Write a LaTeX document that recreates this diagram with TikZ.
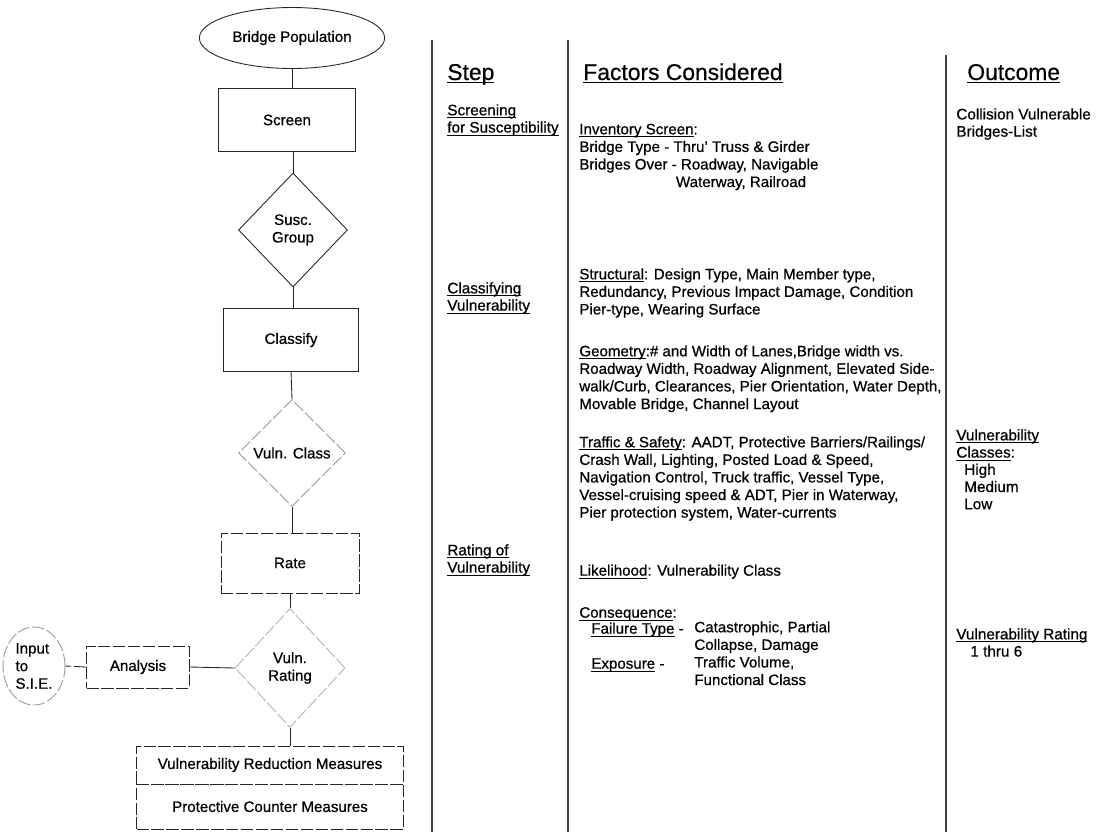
\documentclass[tikz,border=0pt]{standalone}
\usepackage{fontspec}
\setmainfont{Liberation Sans}[FakeBold=0.6]
\usetikzlibrary{shapes.geometric}

\newcommand{\und}[1]{$\underline{\smash{\hbox{#1}}}$}
\newcommand{\flowfont}{\fontsize{8.6}{10}\selectfont}
\newcommand{\colfont}{\fontsize{8.6}{10}\selectfont}
\newcommand{\sidefont}{\fontsize{8.7}{9.8}\selectfont}
\newcommand{\headfont}{\fontsize{13}{15}\selectfont}

\tikzset{
    line/.style={draw=black!85, line width=0.5pt},
    box/.style={line, rectangle, font=\flowfont, inner sep=2pt},
    broken/.style={dash pattern=on 7pt off 1.5pt},
    choice/.style={line, diamond, font=\flowfont, align=center, inner sep=0pt},
    faint/.style={draw=black!40},
    sep/.style={draw=black!75, line width=0.6pt},
    colhead/.style={anchor=base west, inner sep=0pt, font=\headfont},
    coltext/.style={anchor=north west, inner sep=0pt, align=left, font=\colfont,
        execute at begin node=\rule{0pt}{7pt}},
}

\begin{document}
\begin{tikzpicture}[x=0.02cm, y=-0.02cm]
    \useasboundingbox (0,0) rectangle (1097,832);

    % flow chart
    \node[line, ellipse, minimum width=3.6cm, minimum height=1.22cm, font=\flowfont] (pop) at (292,38) {Bridge Population};
    \node[box, minimum width=2.74cm, minimum height=1.26cm] (screen) at (287,120) {Screen};
    \node[choice, minimum width=2.18cm, minimum height=2.28cm] (susc) at (293,230) {Susc.\\Group};
    \node[box, minimum width=2.7cm, minimum height=1.26cm] (classify) at (291,340) {Classify};
    \node[choice, faint, broken, minimum width=2.14cm, minimum height=2.14cm] (vulnclass) at (292,453) {Vuln. Class};
    \node[box, broken, minimum width=2.76cm, minimum height=1.2cm] (rate) at (290,563) {Rate};
    \node[choice, faint, broken, draw=black!30, minimum width=2.2cm, minimum height=2.38cm] (vulnrating) at (290,668) {Vuln.\\Rating};
    \node[box, broken, minimum width=2.06cm, minimum height=0.84cm] (analysis) at (138,667) {Analysis};
    \node[line, faint, broken, ellipse, inner sep=0pt, align=left, font=\flowfont,
        minimum width=1.24cm, minimum height=1.56cm] (sie) at (34,666) {Input\\to\\S.I.E.};
    \node[box, broken, minimum width=5.34cm, minimum height=0.76cm] (reduce) at (270,765) {Vulnerability Reduction Measures};
    \node[box, broken, minimum width=5.34cm, minimum height=0.9cm] (counter) at (270,806.5) {Protective Counter Measures};

    \draw[line] (pop.south) -- (pop.south |- screen.north);
    \draw[line] (susc.north |- screen.south) -- (susc.north);
    \draw[line] (susc.south) -- (susc.south |- classify.north);
    \draw[line] (classify.south) -- (vulnclass.north);
    \draw[line] (vulnclass.south) -- (vulnclass.south |- rate.north);
    \draw[line] (rate.south) -- (vulnrating.north);
    \draw[line] (vulnrating.south) -- (vulnrating.south |- reduce.north);
    \draw[line] (vulnrating.west) -- (analysis.east);
    \draw[line, broken] (analysis.west) -- (sie.east);

    % table columns
    \foreach \x in {432, 568} {
        \draw[sep] (\x,40) -- (\x,832);
    }
    \draw[sep] (946,55) -- (946,832);

    \node[colhead] (stephead) at (447,80) {\und{Step}};
    \node[colhead] (facthead) at (583,80) {\und{Factors Considered}};
    \node[colhead] (outhead) at (967,80) {\und{Outcome}};

    \node[coltext, font=\sidefont] (stepscreen) at (447,115) {\und{Screening}\\\und{for Susceptibility}};
    \node[coltext, font=\sidefont] (stepclass) at (447,293) {\und{Classifying}\\\und{Vulnerability}};
    \node[coltext, font=\sidefont] (steprate) at (447,555) {\und{Rating of}\\\und{Vulnerability}};

    \node[coltext] (inventory) at (579,126) {\und{Inventory Screen}:\\Bridge Type - Thru' Truss \& Girder\\Bridges Over - Roadway, Navigable\\\hspace*{55pt}Waterway, Railroad};
    \node[coltext] (structural) at (579,268) {\und{Structural}: Design Type, Main Member type,\\Redundancy, Previous Impact Damage, Condition\\Pier-type, Wearing Surface};
    \node[coltext] (geometry) at (579,345) {\und{Geometry}:\# and Width of Lanes,Bridge width vs.\\Roadway Width, Roadway Alignment, Elevated Side-\\walk/Curb, Clearances, Pier Orientation, Water Depth,\\Movable Bridge, Channel Layout};
    \node[coltext] (traffic) at (579,436) {\und{Traffic \& Safety}: AADT, Protective Barriers/Railings/\\Crash Wall, Lighting, Posted Load \& Speed,\\Navigation Control, Truck traffic, Vessel Type,\\Vessel-cruising speed \& ADT, Pier in Waterway,\\Pier protection system, Water-currents};
    \node[coltext] (likelihood) at (579,563) {\und{Likelihood}: Vulnerability Class};
    \node[coltext] (consequence) at (579,605) {\und{Consequence}:};
    \node[coltext] (failure) at (591,621) {\und{Failure Type} -};
    \node[coltext] (exposure) at (591,656) {\und{Exposure} -};
    \node[coltext] (effects) at (694,621) {Catastrophic, Partial\\Collapse, Damage\\Traffic Volume,\\Functional Class};

    \node[coltext, font=\sidefont] (collision) at (956,108) {Collision Vulnerable\\Bridges-List};
    \node[coltext, font=\sidefont] (classes) at (956,440) {\und{Vulnerability}\\\und{Classes}:\\\hspace*{4.5pt}High\\\hspace*{4.5pt}Medium\\\hspace*{4.5pt}Low};
    \node[coltext, font=\sidefont] (rating) at (956,639) {\und{Vulnerability Rating}\\\hspace*{8pt}1 thru 6};
\end{tikzpicture}
\end{document}
